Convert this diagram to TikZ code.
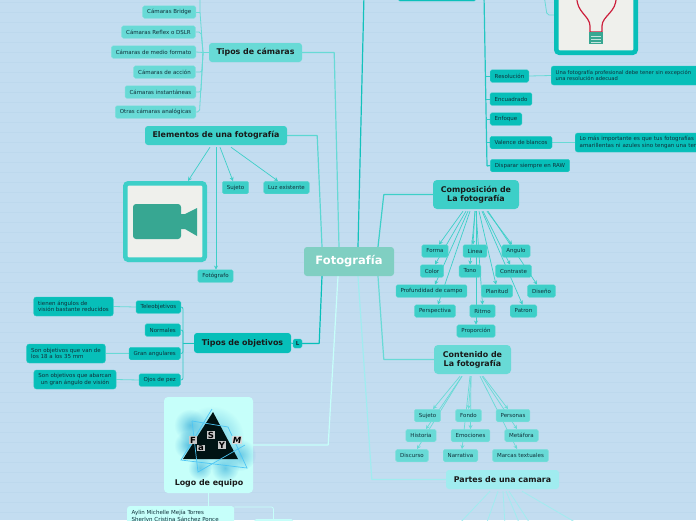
\documentclass[tikz,border=0pt]{standalone}
\usepackage{fontspec}
\setmainfont{DejaVu Sans}
\usetikzlibrary{arrows.meta,backgrounds,fadings}
\tikzfading[name=softout, inner color=transparent!0, outer color=transparent!100]
\definecolor{paper}{HTML}{C3DDF0}
\definecolor{paperline}{HTML}{BDD9ED}
\definecolor{rootcol}{HTML}{80CFC2}
\definecolor{tealcol}{HTML}{07BFB9}
\definecolor{midcol}{HTML}{3DCFC8}
\definecolor{softcol}{HTML}{68DAD6}
\definecolor{palecol}{HTML}{A0ECEF}
\definecolor{icecol}{HTML}{C6FFFA}
\definecolor{framefill}{HTML}{EFF0EC}
\definecolor{inkcol}{HTML}{10303A}
\definecolor{camcol}{HTML}{37A792}
\definecolor{bulbcol}{HTML}{CC1F3C}
\begin{document}
\begin{tikzpicture}[
    x=1pt, y=-1pt,
    >={Stealth[length=4pt,width=4pt]},
    box/.style={rounded corners=1.6pt, minimum height=12.5pt, inner xsep=4.5pt, inner ysep=0pt, text=inkcol, font=\fontsize{5.5}{6.6}\selectfont},
    title/.style={rounded corners=3pt, inner xsep=0pt, inner ysep=0pt, text=black!90, align=center, font=\fontsize{7.9}{9}\selectfont\bfseries},
    tealbox/.style={box, fill=tealcol, draw=tealcol!85!white, line width=0.4pt},
    midbox/.style={box, fill=midcol, draw=midcol!85!white, line width=0.4pt},
    softbox/.style={box, fill=softcol, draw=softcol!85!white, line width=0.4pt},
    picframe/.style={rounded corners=3pt, fill=framefill, line width=4.6pt},
    mainline/.style={line width=1.2pt, rounded corners=0.5pt},
    subline/.style={line width=0.8pt, rounded corners=2pt},
    arrowline/.style={line width=0.7pt, ->}
]
\useasboundingbox (0,0) rectangle (696,520);
\begin{scope}[on background layer]
\fill[paper] (0,0) rectangle (696,520);
\foreach \row in {2,12,...,512}
    \draw[paperline, line width=0.6pt] (0,\row) -- (696,\row);
\end{scope}

\node[title, fill=rootcol, minimum width=90pt, minimum height=29pt, text=white, font=\fontsize{11.5}{13}\selectfont\bfseries] (foto) at (349,261.5) {Fotografía};

\node[title, fill=softcol, minimum width=93pt, minimum height=19pt] (camaras) at (255.5,52.5) {Tipos de cámaras};
\node[softbox, anchor=east] (bridge) at (196,12) {Cámaras Bridge};
\node[softbox, anchor=east] (reflex) at (195.5,32) {Cámaras Reflex o DSLR};
\node[softbox, anchor=east] (formato) at (196,52) {Cámaras de medio formato};
\node[softbox, anchor=east] (accion) at (195.5,72) {Cámaras de acción};
\node[softbox, anchor=east] (instant) at (196,92) {Cámaras instantáneas};
\node[softbox, anchor=east] (otras) at (196,112) {Otras cámaras analógicas};
\coordinate (camtop) at (200,-5);

\node[title, fill=midcol, minimum width=142pt, minimum height=19pt] (elementos) at (216,135.5) {Elementos de una fotografía};
\node[picframe, draw=midcol, minimum width=79.4pt, minimum height=76.4pt] (video) at (165,221.5) {};
\node[midbox] (sujetoa) at (235.5,187.5) {Sujeto};
\node[midbox] (luz) at (286.5,187.5) {Luz existente};
\node[midbox] (fotografo) at (215.5,276) {Fotógrafo};
\fill[camcol, rounded corners=3pt] (133,204) rectangle (181,239);
\fill[camcol] (180,214) -- (185,214) -- (197,208) -- (197,236) -- (185,229) -- (180,229) -- cycle;

\node[title, fill=tealcol, minimum width=97pt, minimum height=20pt] (objetivos) at (242.5,343) {Tipos de objetivos};
\node[tealbox, minimum width=9pt, minimum height=9pt, inner xsep=0pt, font=\fontsize{5.5}{6}\selectfont\bfseries] (nota) at (297.5,343.5) {L};
\node[tealbox, anchor=east] (tele) at (181,307) {Teleobjetivos};
\node[tealbox, anchor=east] (normales) at (180.5,330) {Normales};
\node[tealbox, anchor=east] (gran) at (180.5,353.5) {Gran angulares};
\node[tealbox, anchor=east] (ojos) at (180.5,380) {Ojos de pez};
\node[tealbox, minimum height=19pt, rounded corners=2.5pt, align=left] (teledesc) at (73.5,306.5) {tienen ángulos de\\visión bastante reducidos};
\node[tealbox, minimum height=19pt, rounded corners=2.5pt, align=left] (grandesc) at (66,353.5) {Son objetivos que van de\\los 18 a los 35 mm};
\node[tealbox, minimum height=19pt, rounded corners=2.5pt, align=center] (ojosdesc) at (75,379.5) {Son objetivos que abarcan\\un gran ángulo de visión};

\node[title, fill=icecol, minimum width=89pt, minimum height=96pt, rounded corners=4pt] (logo) at (208.5,445) {};
\node[font=\fontsize{7.9}{9}\selectfont\bfseries, text=black!90, inner sep=0pt] (logotext) at (209,483) {Logo de equipo};
\foreach \cx/\cy/\rad in {190/425/16,188/445/14,240/455/16,225/468/14,200/468/12,212/438/32}
    \fill[cyan!70!teal, opacity=0.55, path fading=softout] (\cx,\cy) circle (\rad);
\fill[black!85!teal] (213,412) -- (238,459) -- (183,459) -- cycle;
\draw[cyan!70!white, line width=0.7pt] (192,421) -- (198,472) -- (245,445);
\draw[cyan!70!white, line width=0.7pt] (192,421) -- (228,427) -- (247,468) -- (181,460) -- (212,409);
\foreach \letter/\lx/\ly/\nm in {F/193/440/lf,a/201/448/la,S/211/435/ls,Y/222/445/ly}
    \node[fill=black!22, text=black, inner sep=0.8pt, font=\fontsize{8.5}{9}\selectfont\bfseries] (\nm) at (\lx,\ly) {\letter};
\node[fill=black!15, text=black, inner sep=0.5pt, font=\fontsize{8.5}{9}\selectfont\bfseries\itshape] (lm) at (237,440) {M};

\node[box, fill=icecol, anchor=north west, text width=98pt, rounded corners=2.5pt, align=left, inner ysep=4pt] (equipo) at (127,506) {Aylin Michelle Mejía Torres\\Sherlyn Cristina Sánchez Ponce};
\node[fill=icecol, anchor=north west, minimum width=39pt, minimum height=8pt, rounded corners=1.6pt] (miembro) at (254,519) {};

\node[tealbox, minimum width=78pt, minimum height=12pt] (toprama) at (437,-5) {};
\node[picframe, draw=tealcol, minimum width=79.4pt, minimum height=80pt] (bulbo) at (596,12.7) {};
\draw[bulbcol, line width=1.2pt] (577,-3) .. controls (576,12) and (590,16) .. (590,26) -- (590,32) -- (602,32) -- (602,26) .. controls (602,16) and (617,12) .. (616,-3);
\fill[camcol] (589,32) rectangle (603,44);
\foreach \row in {36,39,42}
    \draw[white!70!camcol, line width=0.5pt] (591,\row) -- (601,\row);
\coordinate (toprama2) at (544,-5);

\node[tealbox] (resolucion) at (509.5,76) {Resolución};
\node[tealbox] (encuadrado) at (511,99) {Encuadrado};
\node[tealbox] (enfoque) at (506,119) {Enfoque};
\node[tealbox] (valence) at (521,142.5) {Valence de blancos};
\node[tealbox] (raw) at (530,165.5) {Disparar siempre en RAW};
\node[tealbox, anchor=west, minimum height=19pt, text width=145pt, rounded corners=2.5pt, align=left, font=\fontsize{5.2}{6.6}\selectfont] (resdesc) at (551,75.5) {Una fotografía profesional debe tener sin excepción\\una resolución adecuad};
\node[tealbox, anchor=west, minimum height=19pt, text width=120pt, rounded corners=2.5pt, align=left] (valdesc) at (575,142.5) {Lo más importante es que tus fotografías\\amarillentas ni azules sino tengan una ten};
\coordinate (topvert) at (484,-5);

\node[title, fill=midcol, minimum width=86pt, minimum height=29pt, rounded corners=4pt] (compo) at (476,194.5) {Composición de\\La fotografía};
\node[midbox] (forma) at (435,251) {Forma};
\node[midbox] (linea) at (475,251) {Linea};
\node[midbox] (angulo) at (516,251) {Angulo};
\node[midbox] (color) at (432,271) {Color};
\node[midbox] (tono) at (470,271) {Tono};
\node[midbox] (contraste) at (513.5,271) {Contraste};
\node[midbox] (profundidad) at (431.5,291) {Profundidad de campo};
\node[midbox] (planitud) at (497,291) {Planitud};
\node[midbox] (diseno) at (541.5,291) {Diseño};
\node[midbox] (perspectiva) at (435,311) {Perspectiva};
\node[midbox] (ritmo) at (482.5,311) {Ritmo};
\node[midbox] (patron) at (523.5,311) {Patron};
\node[midbox] (proporcion) at (476,331) {Proporción};

\node[title, fill=softcol, minimum width=77pt, minimum height=29pt, rounded corners=4pt] (contenido) at (472.5,359.5) {Contenido de\\La fotografía};
\node[softbox] (sujetob) at (427.5,415.5) {Sujeto};
\node[softbox] (fondo) at (468.5,415.5) {Fondo};
\node[softbox] (personas) at (513,415.5) {Personas};
\node[softbox] (historia) at (421,435.5) {Historia};
\node[softbox] (emociones) at (470.5,435.5) {Emociones};
\node[softbox] (metafora) at (521.5,435.5) {Metáfora};
\node[softbox] (discurso) at (412,455.5) {Discurso};
\node[softbox] (narrativa) at (460.5,455.5) {Narrativa};
\node[softbox] (marcas) at (520.5,455.5) {Marcas textuales};

\node[title, fill=palecol, minimum width=113pt, minimum height=19pt] (partes) at (502.5,479.5) {Partes de una camara};
\coordinate (parta) at (458,525);
\coordinate (partb) at (486,525);
\coordinate (partc) at (505,525);
\coordinate (partd) at (520,525);
\coordinate (parte) at (531,525);
\coordinate (partf) at (580,525);

\begin{scope}[on background layer]
\draw[mainline, softcol] (camaras.east) -- ++(32,0) -- ([xshift=-10pt]foto.north);
\draw[mainline, softcol!70!midcol] (elementos.east) -- ++(30,0) -- ([xshift=-27pt]foto.north);
\draw[mainline, tealcol!80!midcol] (topvert |- 0,-5) ++(-120,0) -- ([xshift=9pt]foto.north);
\draw[mainline, midcol] (compo.west) -- ++(-49,0) -- ([xshift=29pt]foto.north);
\draw[mainline, tealcol] (nota.east) -- ++(17,0) -- ([xshift=-27pt]foto.south);
\draw[mainline, icecol] (logo.east) -- ++(75,0) -- ([xshift=-11pt]foto.south);
\draw[mainline, palecol] (partes.west) -- ++(-74,0) -- ([xshift=9pt]foto.south);
\draw[mainline, softcol] (contenido.west) -- ++(-50,0) -- ([xshift=29pt]foto.south);

\draw[subline, softcol] (camaras.west) -- (203,52.5);
\draw[subline, softcol] (camtop) -- (200,12) -- (203,52.5);
\draw[subline, softcol] (bridge.east) -- (200,12);
\draw[subline, softcol] (reflex.east) -- (201,32) -- (203,52.5);
\draw[subline, softcol] (formato.east) -- (203,52.5);
\draw[subline, softcol] (accion.east) -- (202,72) -- (203,52.5);
\draw[subline, softcol] (instant.east) -- (201,92) -- (203,52.5);
\draw[subline, softcol] (otras.east) -- (199.5,112) -- (203,52.5);

\draw[subline, tealcol!60!midcol] (objetivos.west) -- (183,343);
\draw[subline, tealcol!60!softcol] (tele.east) -- (183,307) -- (183,343);
\draw[subline, tealcol!60!softcol] (normales.east) -- (183,330) -- (183,343);
\draw[subline, tealcol!60!softcol] (gran.east) -- (183,353.5) -- (183,343);
\draw[subline, tealcol!60!softcol] (ojos.east) -- (183,380) -- (183,343);
\draw[subline, softcol] (teledesc.east) -- (tele.west);
\draw[subline, softcol] (grandesc.east) -- (gran.west);
\draw[subline, softcol] (ojosdesc.east) -- (ojos.west);
\draw[subline, tealcol] (objetivos.east) -- (nota.west);

\draw[subline, icecol] (logo.south) -- (equipo.north -| logo.south);
\draw[subline, icecol] (equipo.north east) ++(0,1) -- ++(39,0) -- ++(0,14);

\draw[mainline, tealcol!70!softcol] (topvert) -- (487,166) -- (raw.west);
\draw[subline, tealcol!60!softcol] (485.5,76) -- (resolucion.west);
\draw[subline, tealcol!60!softcol] (486,99) -- (encuadrado.west);
\draw[subline, tealcol!60!softcol] (486,119) -- (enfoque.west);
\draw[subline, tealcol!60!softcol] (487,142.5) -- (valence.west);
\draw[subline, softcol] (resolucion.east) -- (resdesc.west);
\draw[subline, softcol] (valence.east) -- (valdesc.west);
\draw[subline, softcol] (toprama2) -- (547,15) -- (bulbo.west |- 0,15);

\draw[arrowline, midcol] ([xshift=-13pt,yshift=-2pt]compo.south) -- ([xshift=4pt]forma.north);
\draw[arrowline, midcol] ([xshift=-10pt,yshift=-2pt]compo.south) -- ([xshift=3pt]color.north);
\draw[arrowline, midcol] ([xshift=-8pt,yshift=-2pt]compo.south) -- ([xshift=3.5pt]profundidad.north);
\draw[arrowline, midcol] ([xshift=-6pt,yshift=-2pt]compo.south) -- ([xshift=3pt]perspectiva.north);
\draw[arrowline, midcol] ([xshift=-1pt,yshift=-2pt]compo.south) -- ([xshift=-2pt]linea.north);
\draw[arrowline, midcol] ([xshift=-1pt,yshift=-2pt]compo.south) -- (tono.north);
\draw[arrowline, midcol] ([xshift=0pt,yshift=-2pt]compo.south) -- (ritmo.north);
\draw[arrowline, midcol] ([xshift=0pt,yshift=-2pt]compo.south) -- (proporcion.north);
\draw[arrowline, midcol] ([xshift=3pt,yshift=-2pt]compo.south) -- ([xshift=-1pt]planitud.north);
\draw[arrowline, midcol] ([xshift=6pt,yshift=-2pt]compo.south) -- ([xshift=-1pt]patron.north);
\draw[arrowline, midcol] ([xshift=7pt,yshift=-2pt]compo.south) -- ([xshift=-3.5pt]contraste.north);
\draw[arrowline, midcol] ([xshift=11pt,yshift=-2pt]compo.south) -- ([xshift=-4pt]angulo.north);
\draw[arrowline, midcol] ([xshift=12pt,yshift=-2pt]compo.south) -- ([xshift=-4.5pt]diseno.north);

\draw[arrowline, softcol] ([xshift=-12.5pt,yshift=-2pt]contenido.south) -- ([xshift=5.5pt]sujetob.north);
\draw[arrowline, softcol] ([xshift=-10.5pt,yshift=-2pt]contenido.south) -- ([xshift=5pt]historia.north);
\draw[arrowline, softcol] ([xshift=-10.5pt,yshift=-2pt]contenido.south) -- ([xshift=5pt]discurso.north);
\draw[arrowline, softcol] ([xshift=-1.5pt,yshift=-2pt]contenido.south) -- (fondo.north);
\draw[arrowline, softcol] ([xshift=-1.5pt,yshift=-2pt]contenido.south) -- (emociones.north);
\draw[arrowline, softcol] ([xshift=-2.5pt,yshift=-2pt]contenido.south) -- ([xshift=1.5pt]narrativa.north);
\draw[arrowline, softcol] ([xshift=10.5pt,yshift=-2pt]contenido.south) -- ([xshift=-5pt]personas.north);
\draw[arrowline, softcol] ([xshift=9.5pt,yshift=-2pt]contenido.south) -- ([xshift=-4.5pt]metafora.north);
\draw[arrowline, softcol] ([xshift=7.5pt,yshift=-2pt]contenido.south) -- ([xshift=-3.5pt]marcas.north);

\draw[arrowline, midcol] ([xshift=-6pt,yshift=-2pt]elementos.south) -- ([xshift=23pt]video.north);
\draw[arrowline, midcol] ([xshift=0pt,yshift=-2pt]elementos.south) -- ([xshift=0.5pt]fotografo.north);
\draw[arrowline, midcol] ([xshift=4pt,yshift=-2pt]elementos.south) -- ([xshift=-2.5pt]sujetoa.north);
\draw[arrowline, midcol] ([xshift=15pt,yshift=-2pt]elementos.south) -- ([xshift=-8.5pt]luz.north);

\draw[line width=0.8pt, palecol] ([xshift=-12.5pt,yshift=-2pt]partes.south) -- (parta);
\draw[line width=0.8pt, palecol] ([xshift=-4.5pt,yshift=-2pt]partes.south) -- (partb);
\draw[line width=0.8pt, palecol] ([xshift=0.5pt,yshift=-2pt]partes.south) -- (partc);
\draw[line width=0.8pt, palecol] ([xshift=3.5pt,yshift=-2pt]partes.south) -- (partd);
\draw[line width=0.8pt, palecol] ([xshift=6.5pt,yshift=-2pt]partes.south) -- (parte);
\draw[line width=0.8pt, palecol] ([xshift=19.5pt,yshift=-2pt]partes.south) -- (partf);
\end{scope}
\end{tikzpicture}
\end{document}
